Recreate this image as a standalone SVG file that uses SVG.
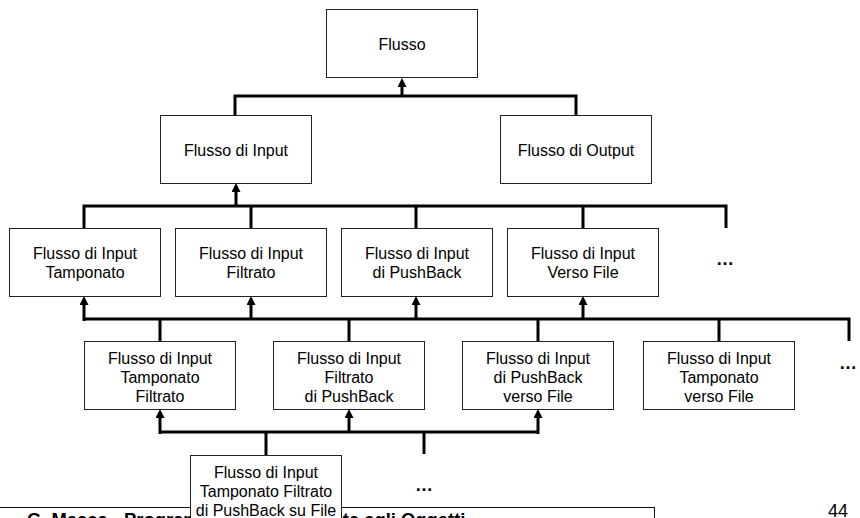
<svg xmlns="http://www.w3.org/2000/svg" width="860" height="518" viewBox="0 0 860 518">
<defs>
<style>
.box{fill:#fff;stroke:#222;stroke-width:1}
.t{font-family:"Liberation Sans",Arial,sans-serif;font-size:16px;fill:#000;text-anchor:middle}
.c{fill:none;stroke:#000;stroke-width:3;stroke-linejoin:miter;stroke-linecap:butt}
.a{marker-end:url(#ah)}
.dots{font-family:"Liberation Sans",Arial,sans-serif;font-size:18px;font-weight:bold;fill:#000;text-anchor:middle}
</style>
<marker id="ah" markerUnits="userSpaceOnUse" viewBox="0 -4.5 9 9" markerWidth="9" markerHeight="9" refX="0" refY="0" orient="auto">
<path d="M0,-4.5 L9,0 L0,4.5 z" fill="#000"/>
</marker>
</defs>
<rect width="860" height="518" fill="#fff"/>

<g id="footer">
<rect x="-2" y="507.5" width="656.5" height="40" fill="#fff" stroke="#111" stroke-width="1"/>
<text x="27" y="526" style="font-family:'Liberation Sans',Arial,sans-serif;font-size:18.4px;font-weight:bold">G. Mecca - Programmazione Orientata agli Oggetti</text>
<text x="828" y="517" style="font-family:'Liberation Sans',Arial,sans-serif;font-size:18px">44</text>
</g>

<g id="connectors">
<path class="c" d="M235,115 V96 H576 V115"/>
<path class="c a" d="M402,96 V87"/>
<path class="c" d="M84,228 V206 H726 V228 M251,206 V228 M416,206 V228 M583,206 V228"/>
<path class="c a" d="M236,206 V192"/>
<path class="c" d="M84,319 H849 V341 M160,319 V341 M349,319 V341 M538,319 V341 M719,319 V341"/>
<path class="c a" d="M84,321 V305"/>
<path class="c a" d="M251,319 V305"/>
<path class="c a" d="M416,319 V305"/>
<path class="c a" d="M583,319 V305"/>
<path class="c" d="M160,432 H538 M266,432 V455 M424,432 V454"/>
<path class="c a" d="M160,434 V418"/>
<path class="c a" d="M349,432 V418"/>
<path class="c a" d="M538,434 V418"/>
</g>

<g id="flusso">
<rect class="box" x="326.5" y="9.5" width="151" height="68"/>
<text class="t" x="402" y="50">Flusso</text>
</g>
<g id="flusso-input">
<rect class="box" x="160.5" y="115.5" width="151" height="68"/>
<text class="t" x="236" y="155.5">Flusso di Input</text>
</g>
<g id="flusso-output">
<rect class="box" x="500.5" y="115.5" width="151" height="68"/>
<text class="t" x="576" y="155.5">Flusso di Output</text>
</g>

<g id="input-tamponato">
<rect class="box" x="9.5" y="228.5" width="151" height="68"/>
<text class="t" x="85" y="259">Flusso di Input</text>
<text class="t" x="85" y="278">Tamponato</text>
</g>
<g id="input-filtrato">
<rect class="box" x="175.5" y="228.5" width="151" height="68"/>
<text class="t" x="251" y="259">Flusso di Input</text>
<text class="t" x="251" y="278">Filtrato</text>
</g>
<g id="input-pushback">
<rect class="box" x="341.5" y="228.5" width="151" height="68"/>
<text class="t" x="417" y="259">Flusso di Input</text>
<text class="t" x="417" y="278">di PushBack</text>
</g>
<g id="input-file">
<rect class="box" x="507.5" y="228.5" width="151" height="68"/>
<text class="t" x="583" y="259">Flusso di Input</text>
<text class="t" x="583" y="278">Verso File</text>
</g>
<g id="dots1"><text class="dots" x="725" y="265">…</text></g>

<g id="tamponato-filtrato">
<rect class="box" x="84.5" y="341.5" width="151" height="68"/>
<text class="t" x="160" y="364">Flusso di Input</text>
<text class="t" x="160" y="383">Tamponato</text>
<text class="t" x="160" y="402">Filtrato</text>
</g>
<g id="filtrato-pushback">
<rect class="box" x="273.5" y="341.5" width="151" height="68"/>
<text class="t" x="349" y="364">Flusso di Input</text>
<text class="t" x="349" y="383">Filtrato</text>
<text class="t" x="349" y="402">di PushBack</text>
</g>
<g id="pushback-file">
<rect class="box" x="462.5" y="341.5" width="151" height="68"/>
<text class="t" x="538" y="364">Flusso di Input</text>
<text class="t" x="538" y="383">di PushBack</text>
<text class="t" x="538" y="402">verso File</text>
</g>
<g id="tamponato-file">
<rect class="box" x="643.5" y="341.5" width="151" height="68"/>
<text class="t" x="719" y="364">Flusso di Input</text>
<text class="t" x="719" y="383">Tamponato</text>
<text class="t" x="719" y="402">verso File</text>
</g>
<g id="dots2"><text class="dots" x="848" y="369">…</text></g>

<g id="tamponato-filtrato-pushback-file">
<rect class="box" x="190.5" y="455.5" width="151" height="80"/>
<text class="t" x="266" y="477.5">Flusso di Input</text>
<text class="t" x="266" y="496.5">Tamponato Filtrato</text>
<text class="t" x="266" y="515.5">di PushBack su File</text>
</g>
<g id="dots3"><text class="dots" x="424" y="491">…</text></g>
</svg>
